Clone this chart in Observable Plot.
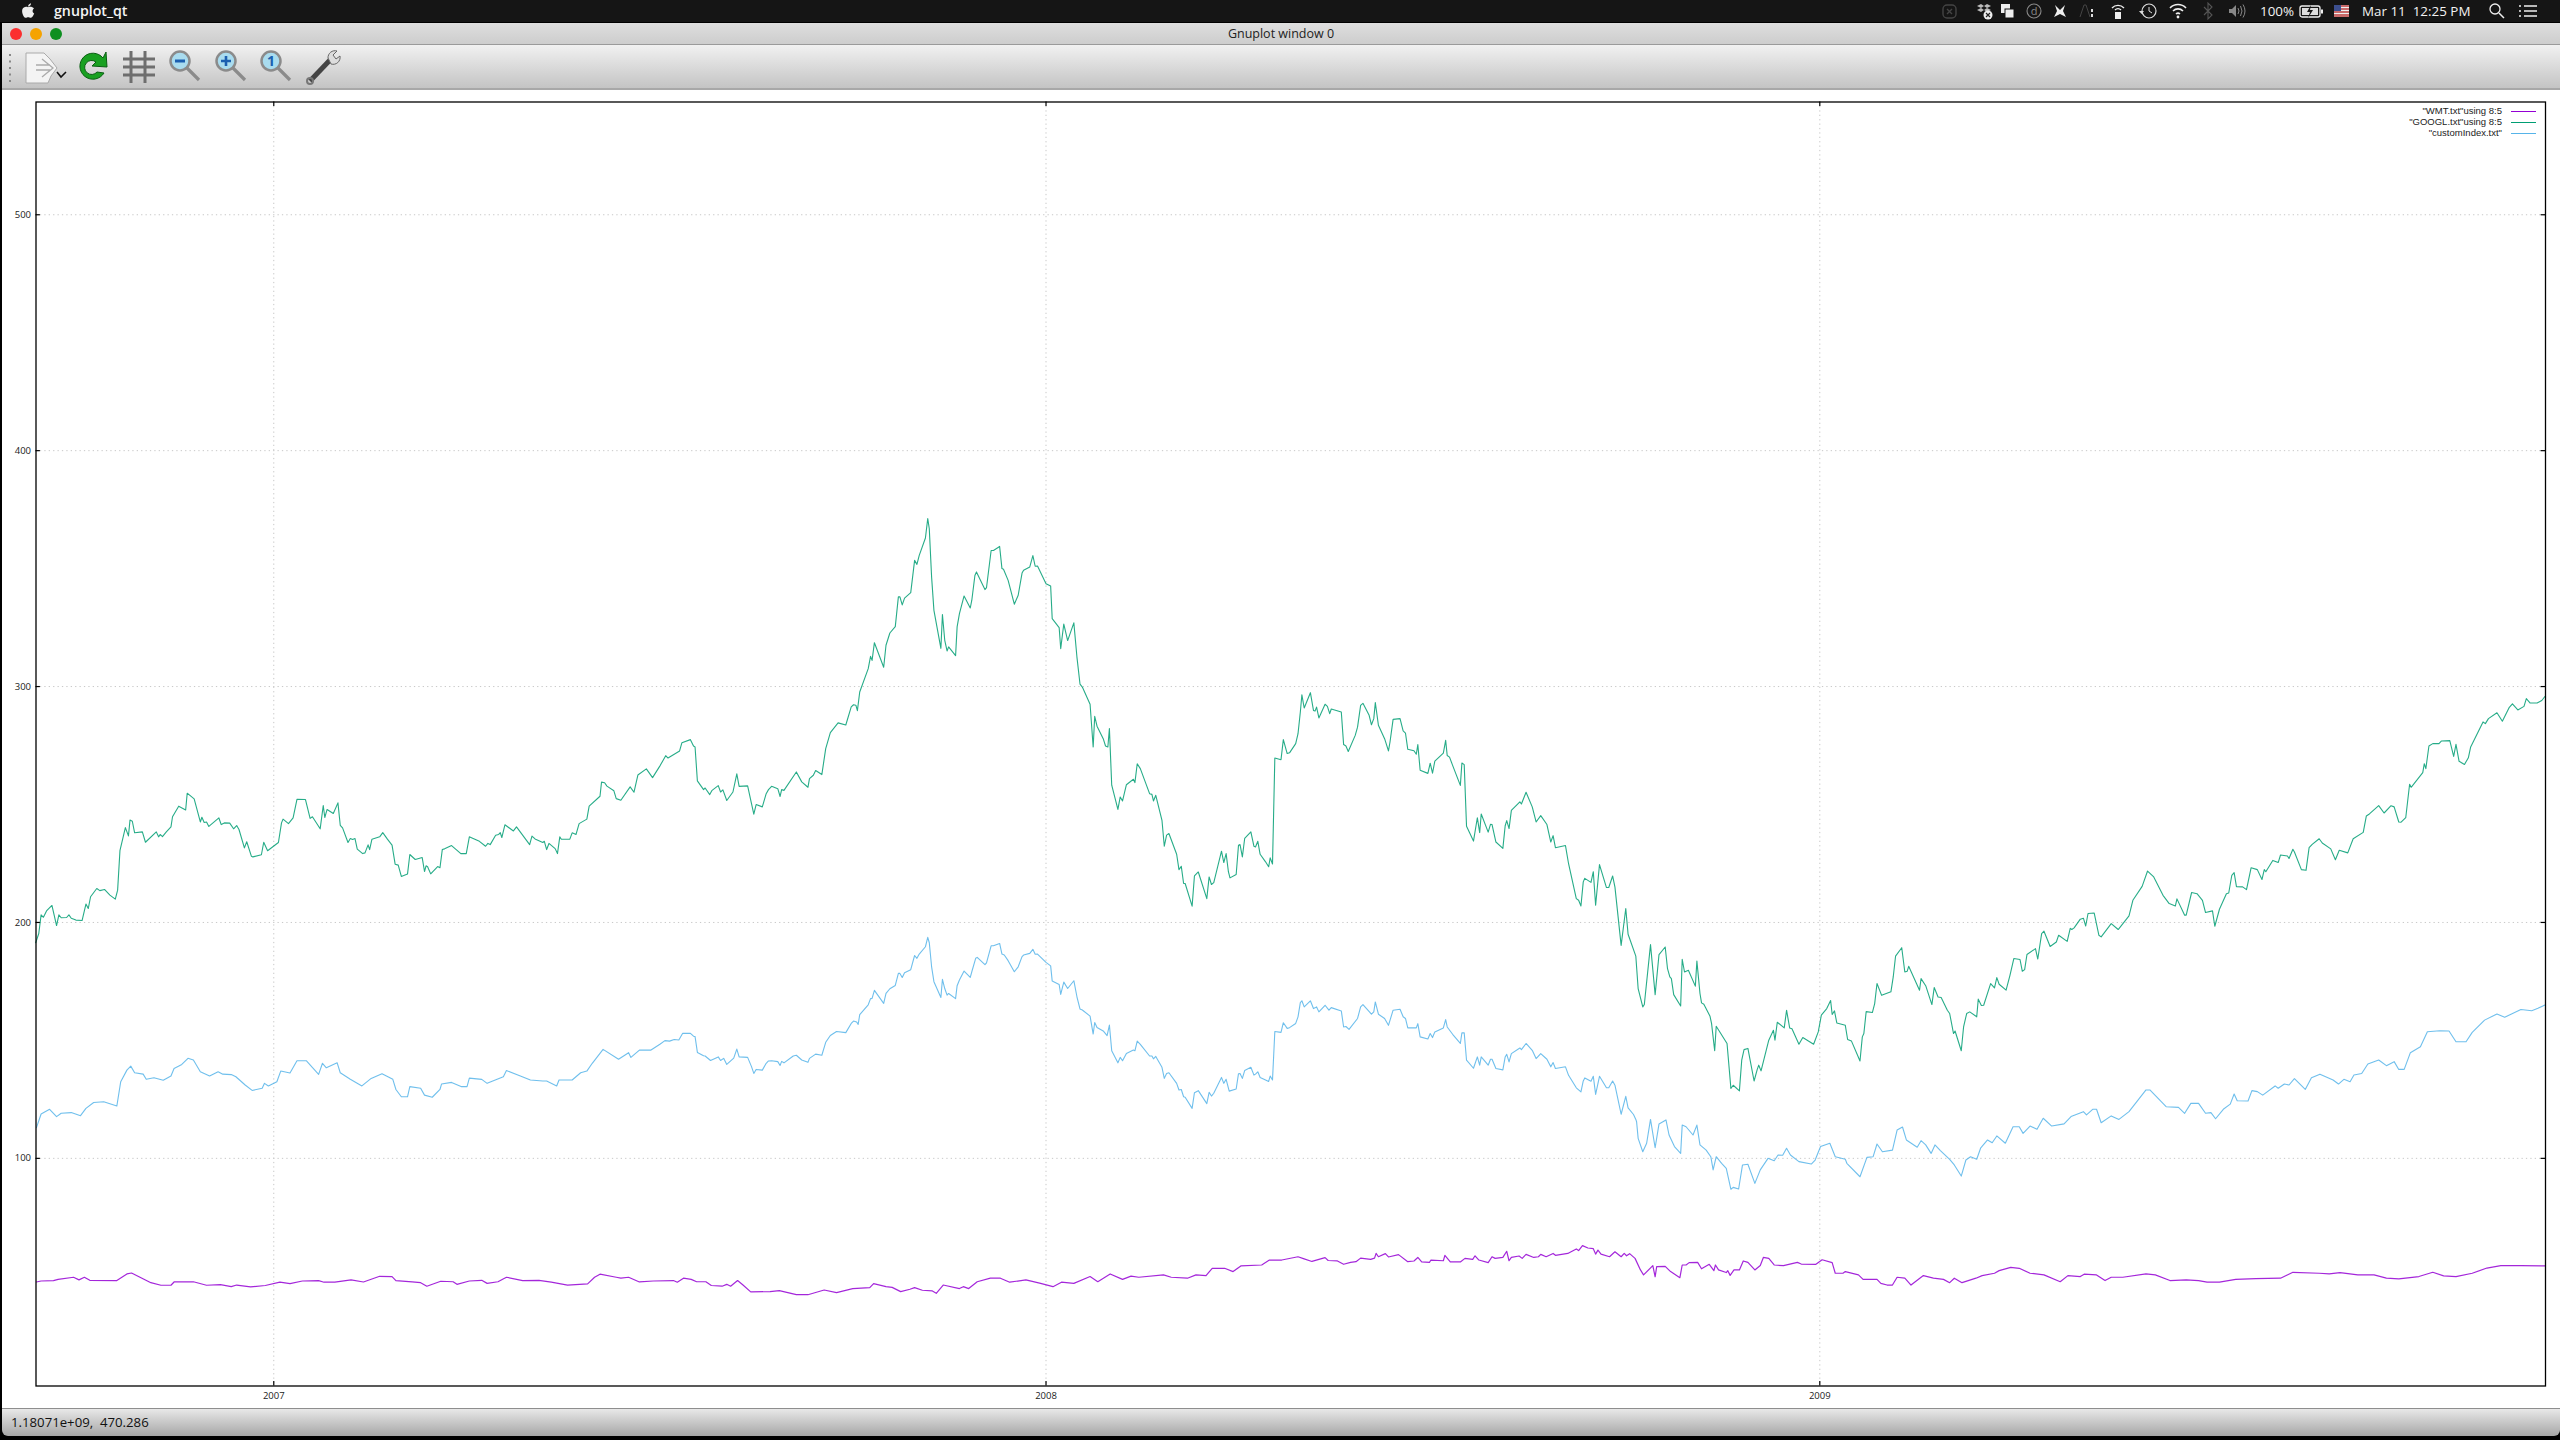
<!DOCTYPE html>
<html><head><meta charset="utf-8">
<script src="https://cdn.jsdelivr.net/npm/d3@7"></script>
<script src="https://cdn.jsdelivr.net/npm/@observablehq/plot@0.6"></script>
<style>
html,body{margin:0;padding:0;background:#000;width:2560px;height:1440px;overflow:hidden;font-family:"Open Sans",sans-serif}
.abs{position:absolute}
#menu{left:0;top:0;width:2560px;height:22px;background:#151515;color:#f2f2f2;font-size:13.4px;line-height:22px}
#titlebar{left:2px;top:23px;width:2558px;height:21px;background:linear-gradient(#dedede,#cdcdcd);border-bottom:1px solid #9a9a9a;text-align:center;font-size:12.5px;line-height:21px;color:#222}
#toolbar{left:2px;top:45px;width:2558px;height:43px;background:linear-gradient(#f1f1f1,#c4c4c4);border-bottom:2px solid #a8a8a8}
#plotarea{left:2px;top:90px;width:2558px;height:1318px;background:#fff}
#status{left:2px;top:1408px;width:2558px;height:28px;background:linear-gradient(#e8e8e8,#a6a6a6);border-top:1px solid #8e8e8e;box-sizing:border-box;font-size:13.2px;line-height:27px;color:#111;padding-left:9px;border-bottom-left-radius:6px;border-bottom-right-radius:6px;white-space:pre}
#legend div{position:absolute;right:43px;white-space:nowrap;font-size:9.5px;line-height:11px;color:#222;font-family:"Liberation Sans",sans-serif}
#legend i{position:absolute;left:2510.5px;width:25.5px;height:1.4px}
svg text{font-family:"Open Sans",sans-serif}
</style></head><body>
<div id="menu" class="abs"></div>
<div id="titlebar" class="abs">Gnuplot window 0</div>
<div id="toolbar" class="abs"></div>
<div id="plotarea" class="abs"></div>
<div id="chart" class="abs" style="left:0;top:90px"></div>
<div id="legend" class="abs" style="left:0;top:0;width:2560px;height:200px"></div>
<div id="status" class="abs">1.18071e+09,  470.286</div>
<script>
const xTicks=[2007,2007.999,2009];
const yTicks=[100,200,300,400,500];
const legendLabels=['"WMT.txt"using 8:5','"GOOGL.txt"using 8:5','"customIndex.txt"'];
const seriesColors=["#9400d3","#009e73","#56b4e9"];

const googlYears=[2006.692,2006.696,2006.699,2006.702,2006.706,2006.713,2006.719,2006.722,2006.725,2006.732,2006.735,2006.738,2006.744,2006.752,2006.757,2006.760,2006.763,2006.771,2006.775,2006.781,2006.788,2006.795,2006.798,2006.801,2006.808,2006.812,2006.814,2006.817,2006.820,2006.830,2006.834,2006.848,2006.851,2006.853,2006.856,2006.861,2006.867,2006.869,2006.877,2006.886,2006.888,2006.897,2006.905,2006.907,2006.910,2006.913,2006.916,2006.929,2006.932,2006.936,2006.943,2006.948,2006.952,2006.955,2006.962,2006.965,2006.971,2006.973,2006.984,2006.987,2006.992,2007.006,2007.010,2007.012,2007.019,2007.025,2007.030,2007.041,2007.047,2007.050,2007.060,2007.064,2007.066,2007.069,2007.077,2007.083,2007.086,2007.089,2007.096,2007.099,2007.102,2007.105,2007.108,2007.115,2007.118,2007.122,2007.124,2007.127,2007.137,2007.141,2007.147,2007.153,2007.157,2007.161,2007.165,2007.173,2007.176,2007.183,2007.192,2007.195,2007.197,2007.199,2007.203,2007.212,2007.215,2007.218,2007.221,2007.230,2007.242,2007.249,2007.253,2007.255,2007.266,2007.274,2007.277,2007.280,2007.287,2007.291,2007.293,2007.295,2007.299,2007.310,2007.314,2007.331,2007.334,2007.338,2007.348,2007.350,2007.353,2007.356,2007.364,2007.367,2007.370,2007.372,2007.383,2007.386,2007.391,2007.395,2007.405,2007.408,2007.422,2007.424,2007.428,2007.431,2007.440,2007.443,2007.449,2007.461,2007.466,2007.471,2007.482,2007.490,2007.500,
2007.507,2007.510,2007.525,2007.528,2007.539,2007.543,2007.545,2007.548,2007.556,2007.558,2007.564,2007.567,2007.575,2007.578,2007.581,2007.586,2007.594,2007.599,2007.602,2007.613,2007.618,2007.621,2007.624,2007.632,2007.637,2007.640,2007.644,2007.652,2007.655,2007.657,2007.660,2007.676,2007.683,2007.691,2007.693,2007.698,2007.701,2007.709,2007.714,2007.720,2007.730,2007.740,2007.747,2007.750,2007.753,2007.755,2007.758,2007.769,2007.772,2007.774,2007.777,2007.789,2007.792,2007.797,2007.804,2007.808,2007.810,2007.813,2007.816,2007.824,2007.829,2007.832,2007.835,2007.843,2007.846,2007.848,2007.851,2007.854,2007.863,2007.865,2007.868,2007.871,2007.873,2007.882,2007.884,2007.887,2007.893,2007.901,2007.903,2007.907,2007.909,2007.920,2007.922,2007.928,2007.931,2007.939,2007.942,2007.944,2007.950,2007.958,2007.963,2007.968,2007.970,2007.978,2007.982,2007.985,2007.988,2007.999,2008.005,2008.007,2008.016,2008.018,2008.022,2008.027,2008.035,2008.039,2008.043,2008.046,2008.056,2008.060,2008.062,2008.065,2008.073,2008.076,2008.079,2008.081,2008.084,2008.092,2008.095,2008.098,2008.103,2008.112,2008.114,2008.117,2008.121,2008.133,2008.136,2008.138,2008.141,2008.149,2008.152,2008.155,2008.158,2008.168,2008.171,2008.174,2008.177,2008.179,2008.188,2008.191,2008.196,2008.207,2008.210,2008.213,2008.216,2008.226,2008.229,2008.232,2008.235,2008.237,2008.245,2008.248,2008.250,2008.253,2008.256,2008.264,2008.268,2008.270,2008.273,2008.276,2008.283,2008.287,2008.289,2008.292,2008.295,2008.303,2008.306,2008.311,2008.314,2008.322,2008.325,2008.328,
2008.330,2008.333,2008.341,2008.345,2008.347,2008.349,2008.352,2008.360,2008.363,2008.366,2008.368,2008.381,2008.384,2008.387,2008.390,2008.399,2008.402,2008.406,2008.409,2008.417,2008.420,2008.423,2008.425,2008.429,2008.437,2008.442,2008.444,2008.448,2008.457,2008.461,2008.464,2008.467,2008.475,2008.478,2008.480,2008.483,2008.493,2008.496,2008.499,2008.502,2008.513,2008.516,2008.518,2008.521,2008.525,2008.535,2008.537,2008.540,2008.543,2008.552,2008.557,2008.560,2008.562,2008.571,2008.574,2008.576,2008.581,2008.590,2008.593,2008.595,2008.598,2008.601,2008.612,2008.614,2008.620,2008.628,2008.633,2008.639,2008.647,2008.652,2008.655,2008.658,2008.671,2008.675,2008.685,2008.688,2008.691,2008.694,2008.696,2008.704,2008.707,2008.710,2008.715,2008.724,2008.727,2008.732,2008.735,2008.743,2008.749,2008.752,2008.762,2008.765,2008.771,2008.773,2008.781,2008.787,2008.792,2008.800,2008.803,2008.806,2008.808,2008.811,2008.820,2008.822,2008.825,2008.830,2008.839,2008.841,2008.845,2008.847,2008.850,2008.858,2008.860,2008.864,2008.866,2008.880,2008.885,2008.888,2008.896,2008.899,2008.902,2008.907,2008.915,2008.919,2008.921,2008.924,2008.934,2008.940,2008.942,2008.945,2008.954,2008.957,2008.961,2008.964,2008.973,2008.978,2008.992,2008.998,2009.002,2009.009,2009.014,2009.016,2009.019,2009.022,2009.033,2009.036,2009.041,2009.052,2009.055,2009.057,2009.060,2009.068,2009.071,2009.074,2009.080,2009.092,2009.095,2009.098,2009.106,2009.110,2009.113,2009.115,2009.129,2009.131,2009.137,2009.145,2009.148,2009.153,2009.157,2009.165,2009.168,2009.173,2009.175,2009.183,2009.186,2009.190,2009.194,2009.203,2009.205,2009.209,2009.212,2009.221,2009.226,2009.229,2009.232,2009.241,2009.246,2009.251,2009.259,2009.262,2009.265,2009.268,2009.279,2009.282,2009.287,2009.290,2009.298,2009.306,2009.309,2009.320,2009.324,2009.326,2009.329,2009.337,2009.341,2009.344,2009.347,2009.355,2009.361,2009.364,2009.377,2009.386,2009.400,2009.405,2009.417,2009.424,2009.432,2009.444,2009.452,2009.460,2009.462,2009.472,2009.474,2009.481,2009.488,2009.495,2009.499,2009.508,2009.511,2009.517,2009.526,2009.529,2009.533,2009.536,2009.539,2009.547,2009.552,2009.558,2009.566,2009.572,2009.575,2009.577,2009.586,2009.593,2009.596,2009.605,2009.607,2009.612,2009.614,2009.623,2009.629,2009.633,2009.637,2009.646,2009.650,2009.661,2009.667,2009.672,2009.683,2009.690,2009.703,2009.707,2009.711,2009.723,2009.730,2009.739,2009.743,2009.749,2009.752,2009.758,2009.763,2009.765,2009.780,2009.782,2009.784,2009.788,2009.793,2009.801,2009.804,2009.815,2009.820,2009.823,2009.827,2009.834,2009.839,2009.842,2009.858,2009.861,2009.865,2009.876,2009.883,2009.892,2009.896,2009.903,2009.911,2009.914,2009.919,2009.928,2009.934,2009.938];
const googlClose=[191.4,195.3,203.2,202.2,204.9,207.2,198.7,203.2,202.0,202.1,203.2,201.8,201.0,200.8,207.8,205.9,210.9,214.4,213.5,214.0,211.6,209.9,213.7,230.4,240.2,236.7,243.4,242.9,238.0,238.4,234.0,238.4,236.3,237.3,236.4,238.4,240.5,244.8,249.3,247.7,254.8,252.4,242.6,244.6,242.4,242.6,240.7,244.3,241.5,242.2,242.1,239.7,241.1,239.4,231.6,234.2,228.1,227.8,228.7,234.0,230.4,233.9,242.2,243.8,241.9,244.3,252.2,252.1,244.1,244.8,239.7,249.6,244.5,247.9,246.2,250.7,241.2,240.1,233.9,235.6,235.2,235.6,231.1,229.2,229.5,232.9,230.9,235.3,236.3,238.1,235.3,232.8,224.7,224.3,219.5,220.5,228.8,226.7,227.5,221.6,224.0,223.6,220.6,223.7,223.2,230.9,231.2,232.6,229.2,229.2,236.3,236.0,234.4,232.3,233.5,233.0,237.0,237.3,238.1,236.0,241.4,238.8,240.5,233.0,236.6,235.4,233.9,234.4,230.9,233.5,231.3,229.2,236.3,235.3,235.3,238.0,237.3,241.9,243.8,249.3,253.5,259.5,259.2,257.8,255.8,252.5,251.8,257.5,255.2,262.5,265.1,261.4,266.6,
270.7,269.7,272.7,276.2,277.5,274.8,274.4,260.0,256.3,257.0,254.2,256.0,258.0,255.3,256.2,251.7,255.3,263.0,257.7,257.9,250.4,245.9,250.0,249.0,254.6,256.3,257.7,256.7,253.4,256.3,256.0,263.8,259.6,257.3,261.0,262.4,264.4,262.7,273.7,280.5,284.6,283.7,291.4,292.3,292.1,289.8,297.7,307.6,312.8,311.1,318.6,308.2,317.5,322.7,325.4,338.0,338.0,334.6,337.5,339.8,353.5,351.8,355.6,363.0,371.2,366.9,346.4,332.3,316.2,330.5,319.6,315.1,316.8,313.1,325.3,330.9,338.4,333.3,336.6,347.1,348.6,341.1,341.9,357.7,357.7,359.4,350.0,349.7,345.0,334.9,338.7,348.1,349.3,350.7,355.5,351.0,351.1,343.6,342.6,328.8,325.0,316.1,326.5,319.5,327.0,312.5,301.0,299.8,292.5,274.4,287.4,283.2,277.9,274.8,274.4,282.2,258.2,247.9,253.2,251.5,258.4,260.7,259.3,267.3,265.2,254.6,254.3,251.5,253.9,243.3,232.3,237.0,237.7,228.9,222.4,223.8,216.5,216.5,206.9,219.7,221.4,210.1,219.3,216.1,216.9,230.2,225.4,229.2,221.4,218.9,220.3,232.7,233.0,227.8,235.6,238.4,232.3,232.0,234.4,228.9,225.7,223.6,227.4,224.8,269.7,269.0,277.5,271.6,271.9,275.8,280.0,289.2,
296.5,290.9,297.4,289.9,289.6,291.3,286.7,292.5,291.6,288.5,290.5,289.2,275.4,274.8,272.5,279.3,282.8,292.0,292.9,287.8,283.8,286.4,293.2,283.6,277.9,272.7,276.5,286.1,286.4,281.2,280.3,273.4,272.8,271.3,275.4,264.5,263.2,267.5,263.3,268.4,271.8,277.2,270.8,270.1,266.6,258.1,267.6,266.9,240.8,234.5,244.4,238.1,246.0,238.3,241.6,241.5,234.1,231.4,241.0,243.2,239.8,247.5,251.1,250.2,255.2,249.0,242.6,245.3,241.5,234.1,236.8,231.7,232.6,224.9,210.1,209.4,207.0,217.2,218.7,217.0,221.5,207.3,224.5,214.8,214.8,219.7,215.0,190.3,205.9,195.0,185.7,172.0,164.2,165.2,190.6,169.4,186.4,189.6,180.4,176.9,176.2,169.4,164.6,184.4,179.0,179.7,173.0,183.6,169.9,165.9,165.3,160.2,157.1,145.6,156.0,148.7,129.6,131.0,128.6,141.6,146.1,146.6,132.8,137.6,139.5,137.1,150.1,154.3,150.1,157.7,155.3,162.8,155.3,154.9,148.4,151.2,148.4,153.6,160.7,163.5,166.9,161.0,162.5,157.4,156.4,150.4,149.7,141.3,151.5,152.9,162.2,161.8,165.6,174.1,169.1,170.6,176.9,185.7,189.3,179.0,179.3,181.4,171.3,176.2,173.2,165.2,172.4,168.4,168.2,162.8,161.4,152.9,154.0,145.6,155.7,161.4,162.1,160.0,167.5,164.8,164.9,174.1,172.3,176.6,173.8,171.3,177.6,184.7,184.3,179.3,180.0,186.4,188.9,184.5,195.3,196.3,189.8,191.7,194.6,192.0,197.5,197.0,197.7,201.4,201.8,198.5,203.8,204.0,194.6,193.9,199.5,197.0,202.8,209.4,215.3,221.8,219.3,211.5,208.0,207.0,210.0,203.1,203.1,212.7,212.2,209.4,204.2,204.9,198.4,205.6,212.2,212.5,220.0,221.1,215.2,215.1,213.9,223.2,222.4,218.2,222.4,221.5,226.3,225.4,228.6,228.2,227.1,231.0,229.9,222.4,222.1,231.7,233.1,235.5,233.7,231.2,226.6,230.6,229.5,235.5,238.2,245.1,246.0,249.5,246.4,249.5,249.0,242.6,242.5,244.4,258.6,257.3,263.5,267.3,265.2,274.8,275.8,275.8,276.9,277.1,270.4,275.5,268.3,267.0,269.8,274.4,285.0,284.3,286.4,288.9,285.3,291.2,292.7,290.1,291.6,294.9,293.0,293.0,294.1,295.8];

const indexYears=[2006.693,2006.699,2006.710,2006.719,2006.725,2006.738,2006.750,2006.757,2006.767,2006.780,2006.797,2006.802,2006.810,2006.815,2006.820,2006.831,2006.835,2006.845,2006.857,2006.867,2006.871,2006.881,2006.889,2006.896,2006.905,2006.917,2006.928,2006.934,2006.945,2006.951,2006.963,2006.972,2006.985,2006.988,2006.993,2007.004,2007.009,2007.021,2007.030,2007.042,2007.058,2007.063,2007.068,2007.082,2007.086,2007.099,2007.114,2007.126,2007.140,2007.154,2007.158,2007.165,2007.173,2007.176,2007.190,2007.195,2007.205,2007.215,2007.217,2007.230,2007.243,2007.250,2007.253,2007.269,2007.276,2007.297,2007.301,2007.319,2007.332,2007.348,2007.353,2007.366,2007.369,2007.386,2007.397,2007.405,2007.412,2007.426,2007.446,2007.459,2007.462,2007.473,2007.488,2007.500,
2007.506,2007.512,2007.518,2007.524,2007.529,2007.539,2007.543,2007.545,2007.548,2007.556,2007.558,2007.565,2007.575,2007.578,2007.582,2007.586,2007.595,2007.599,2007.602,2007.613,2007.618,2007.621,2007.624,2007.632,2007.637,2007.640,2007.644,2007.652,2007.655,2007.657,2007.660,2007.672,2007.676,2007.683,2007.691,2007.693,2007.701,2007.709,2007.714,2007.720,2007.728,2007.740,2007.747,2007.750,2007.754,2007.756,2007.758,2007.769,2007.772,2007.774,2007.777,2007.789,2007.792,2007.797,2007.804,2007.808,2007.810,2007.813,2007.816,2007.824,2007.829,2007.832,2007.835,2007.843,2007.846,2007.848,2007.851,2007.854,2007.863,2007.865,2007.868,2007.871,2007.873,2007.882,2007.884,2007.887,2007.893,2007.901,2007.903,2007.908,2007.910,2007.920,2007.922,2007.928,2007.931,2007.939,2007.942,2007.945,2007.950,2007.958,2007.963,2007.968,2007.970,2007.978,2007.982,2007.985,2007.988,2007.999,2008.005,2008.007,2008.016,2008.018,2008.022,2008.027,2008.035,2008.039,2008.043,2008.046,2008.056,2008.060,2008.062,2008.065,2008.073,2008.078,2008.081,2008.084,2008.092,2008.095,2008.098,2008.103,2008.112,2008.114,2008.117,2008.121,2008.133,2008.136,2008.138,2008.141,2008.149,2008.152,2008.155,2008.158,2008.168,2008.171,2008.174,2008.177,2008.179,2008.188,2008.191,2008.196,2008.207,2008.210,2008.213,2008.216,2008.226,2008.229,2008.232,2008.236,2008.245,2008.248,2008.250,2008.253,2008.256,2008.264,2008.268,2008.270,2008.273,2008.276,2008.283,2008.287,2008.289,2008.292,2008.295,2008.303,2008.306,2008.311,2008.314,2008.322,2008.325,2008.328,
2008.330,2008.333,2008.341,2008.345,2008.347,2008.349,2008.352,2008.360,2008.365,2008.368,2008.381,2008.384,2008.387,2008.391,2008.402,2008.406,2008.409,2008.420,2008.423,2008.425,2008.429,2008.437,2008.442,2008.448,2008.457,2008.461,2008.464,2008.467,2008.478,2008.480,2008.483,2008.493,2008.496,2008.499,2008.502,2008.513,2008.516,2008.518,2008.525,2008.535,2008.537,2008.540,2008.543,2008.552,2008.557,2008.560,2008.562,2008.571,2008.574,2008.576,2008.581,2008.590,2008.593,2008.595,2008.598,2008.601,2008.612,2008.614,2008.620,2008.628,2008.633,2008.639,2008.647,2008.652,2008.655,2008.658,2008.671,2008.675,2008.685,2008.691,2008.694,2008.696,2008.704,2008.707,2008.710,2008.715,2008.724,2008.727,2008.732,2008.735,2008.743,2008.749,2008.752,2008.759,2008.762,2008.763,2008.765,2008.771,2008.776,2008.781,2008.787,2008.792,2008.801,2008.805,2008.812,2008.820,2008.822,2008.827,2008.836,2008.841,2008.845,2008.853,2008.859,2008.862,2008.866,2008.873,2008.879,2008.885,2008.888,2008.895,2008.900,2008.907,2008.916,2008.923,2008.933,2008.941,2008.946,2008.952,2008.957,2008.962,2008.973,2008.989,2008.994,2009.001,2009.013,2009.020,2009.033,2009.035,2009.052,2009.061,2009.069,2009.074,2009.081,2009.094,2009.100,2009.107,2009.112,2009.126,2009.131,2009.137,2009.144,2009.149,2009.156,2009.168,2009.174,2009.183,2009.189,2009.195,2009.203,2009.208,2009.217,2009.223,2009.229,2009.240,2009.250,2009.258,2009.263,2009.272,2009.281,2009.289,2009.300,2009.316,2009.325,2009.341,2009.345,2009.353,2009.358,2009.364,2009.377,2009.387,2009.400,2009.422,2009.427,2009.448,2009.464,2009.472,2009.480,2009.490,2009.499,2009.506,2009.512,2009.522,2009.531,2009.536,2009.540,2009.554,2009.559,2009.566,2009.573,2009.589,2009.593,2009.601,2009.607,2009.614,2009.628,2009.636,2009.647,2009.664,2009.671,2009.678,2009.686,2009.691,2009.701,2009.709,2009.723,2009.733,2009.743,2009.749,2009.756,2009.764,2009.777,2009.786,2009.802,2009.814,2009.823,2009.836,2009.844,2009.860,2009.876,2009.886,2009.907,2009.921,2009.929,2009.938];
const indexValue=[113.0,118.8,120.8,117.7,119.1,119.4,118.1,121.2,123.7,124.0,122.2,132.5,137.4,139.1,136.3,135.7,133.5,134.2,133.1,134.9,138.1,139.8,142.4,141.7,136.7,134.9,136.7,135.7,135.5,134.6,131.1,128.8,129.7,131.8,130.7,132.5,137.0,136.2,141.4,141.4,135.6,140.3,138.4,140.5,136.3,133.5,130.7,133.9,135.9,133.5,129.2,126.1,126.1,130.4,129.7,126.8,125.9,129.2,131.5,132.2,130.4,130.4,134.0,133.5,131.8,134.6,137.2,134.9,133.2,132.8,132.8,130.7,133.2,133.2,136.3,137.0,140.3,146.2,142.0,144.8,142.8,145.9,145.9,148.5,
149.9,149.7,150.4,150.2,153.0,153.0,151.8,151.6,144.9,143.5,143.4,141.5,143.0,141.5,142.4,139.8,142.5,146.3,143.0,142.8,138.9,136.0,137.7,137.4,140.3,141.3,141.4,141.0,139.4,141.1,140.5,143.4,143.7,141.7,140.7,142.4,144.2,143.7,149.2,152.1,153.8,153.3,157.2,158.2,157.8,156.8,160.9,165.1,167.7,167.8,171.2,165.7,169.9,171.9,173.3,178.4,178.4,176.7,178.7,180.0,186.0,184.8,186.6,189.7,193.7,191.4,181.2,174.9,168.2,175.9,172.0,169.2,169.9,167.7,173.2,175.6,179.4,176.7,179.1,184.8,185.2,182.1,182.9,190.1,190.1,191.1,186.6,186.2,183.8,179.1,181.2,185.5,186.2,186.9,188.6,186.5,186.6,183.1,181.6,175.2,173.7,169.5,174.7,172.0,175.3,168.5,163.3,162.9,160.3,152.7,157.6,155.5,154.0,152.0,156.5,145.6,140.5,142.8,141.4,144.5,145.9,145.6,149.7,148.3,143.4,143.4,142.2,143.2,138.6,133.9,136.0,136.3,131.8,129.0,129.2,126.1,125.9,121.2,127.8,128.7,123.2,128.0,126.4,127.6,134.3,131.8,133.5,128.5,129.4,135.9,136.0,133.9,137.2,138.6,135.3,135.7,136.7,134.3,133.2,132.6,134.9,133.2,153.8,153.4,157.5,155.1,155.4,157.2,160.0,166.0,
166.8,164.2,166.8,163.5,163.8,164.2,162.1,164.9,162.8,163.9,162.5,155.7,155.9,154.7,159.3,164.2,165.2,161.1,162.1,166.3,161.1,159.3,156.4,162.8,163.2,160.0,159.3,155.3,155.3,157.1,151.5,150.6,152.9,151.2,153.6,155.3,158.8,155.7,152.6,148.7,153.2,153.2,141.6,138.2,143.0,139.5,143.0,139.5,142.0,142.0,138.1,137.5,143.0,144.1,140.9,144.4,146.8,146.1,148.7,145.8,142.3,144.4,142.0,138.8,140.6,138.1,138.8,135.2,129.9,128.2,132.8,134.1,132.7,134.8,127.1,134.8,129.9,129.9,132.8,131.0,118.7,126.3,121.4,118.6,116.5,115.5,108.5,102.8,106.4,116.5,104.5,114.6,116.3,109.9,105.0,102.1,114.1,113.4,109.9,114.1,105.7,103.5,100.7,95.1,100.7,97.9,95.8,86.9,87.7,87.0,97.2,97.5,89.4,95.1,100.0,99.0,101.4,101.3,104.3,101.4,98.6,97.6,99.3,105.0,106.4,100.7,99.6,97.9,92.2,100.4,100.7,106.1,102.8,103.5,112.0,113.3,107.8,104.7,107.5,105.7,102.1,105.7,103.3,99.6,97.2,92.5,99.3,100.7,99.6,104.3,107.8,106.6,109.5,106.4,113.4,113.4,110.6,113.7,112.3,117.0,113.7,114.6,117.7,119.8,118.4,120.8,120.8,115.1,118.0,116.5,119.8,129.0,129.0,121.9,121.6,119.1,123.3,123.3,119.1,119.4,116.8,120.8,123.0,127.3,124.4,124.3,128.7,128.3,126.8,130.7,129.7,131.5,131.1,133.8,129.2,134.2,135.7,133.2,131.5,133.5,132.5,135.3,136.0,140.0,141.7,139.3,141.0,137.7,137.7,144.8,147.3,153.7,154.1,154.0,149.4,149.4,153.4,158.6,161.2,159.8,163.1,162.6,163.6,165.0];

const wmtYears=[2006.693,2006.699,2006.715,2006.721,2006.741,2006.748,2006.755,2006.762,2006.797,2006.810,2006.816,2006.825,2006.841,2006.854,2006.867,2006.871,2006.896,2006.913,2006.931,2006.945,2006.952,2006.970,2006.989,2007.008,2007.021,2007.037,2007.058,2007.065,2007.079,2007.100,2007.116,2007.137,2007.153,2007.158,2007.179,2007.190,2007.198,2007.216,2007.232,2007.237,2007.253,2007.269,2007.276,2007.290,2007.301,2007.322,2007.343,2007.359,2007.380,2007.406,2007.415,2007.422,2007.443,2007.449,2007.459,2007.473,2007.491,2007.517,2007.522,2007.530,2007.540,2007.547,2007.559,2007.566,2007.580,2007.586,2007.591,2007.600,2007.607,2007.617,2007.642,2007.654,2007.676,2007.691,2007.712,2007.728,2007.749,2007.771,2007.776,2007.792,2007.800,2007.811,2007.823,2007.829,2007.839,2007.852,2007.857,2007.866,2007.887,2007.892,2007.899,2007.910,2007.927,2007.940,2007.952,2007.973,2007.992,2008.008,2008.019,2008.035,2008.056,2008.066,2008.082,2008.098,2008.109,2008.119,2008.151,2008.161,2008.182,2008.193,2008.206,2008.214,2008.230,2008.241,2008.251,2008.278,2008.288,2008.304,2008.325,
2008.332,2008.343,2008.360,2008.364,2008.376,2008.384,2008.393,2008.400,2008.406,2008.419,2008.424,2008.426,2008.429,2008.438,2008.442,2008.455,2008.467,2008.475,2008.480,2008.485,2008.495,2008.497,2008.513,2008.515,2008.522,2008.535,2008.541,2008.551,2008.554,2008.559,2008.571,2008.576,2008.580,2008.590,2008.595,2008.598,2008.601,2008.611,2008.615,2008.620,2008.630,2008.636,2008.639,2008.646,2008.655,2008.658,2008.674,2008.685,2008.688,2008.693,2008.700,2008.707,2008.710,2008.713,2008.717,2008.728,2008.735,2008.743,2008.747,2008.750,2008.754,2008.761,2008.768,2008.772,2008.784,2008.787,2008.789,2008.800,2008.807,2008.819,2008.822,2008.827,2008.831,2008.842,2008.847,2008.857,2008.863,2008.865,2008.869,2008.879,2008.881,2008.884,2008.889,2008.896,2008.901,2008.907,2008.916,2008.923,2008.927,2008.934,2008.941,2008.953,2008.971,2008.976,2008.995,2009.003,2009.016,2009.020,2009.030,2009.033,2009.050,2009.056,2009.074,2009.079,2009.087,2009.094,
2009.100,2009.110,2009.118,2009.134,2009.147,2009.160,2009.168,2009.174,2009.184,2009.202,2009.210,2009.226,2009.232,2009.247,2009.258,2009.272,2009.290,2009.311,2009.321,2009.337,2009.342,2009.358,2009.369,2009.377,2009.392,2009.422,2009.434,2009.453,2009.474,2009.490,2009.501,2009.517,2009.538,2009.564,2009.596,2009.612,2009.646,2009.659,2009.673,2009.696,2009.717,2009.733,2009.749,2009.775,2009.793,2009.807,2009.823,2009.844,2009.863,2009.881,2009.907,2009.938];
const wmtClose=[47.6,48.0,48.2,48.7,49.6,48.5,49.6,48.3,48.2,51.0,51.4,49.9,47.3,46.2,46.2,47.6,47.7,46.2,46.5,45.6,46.3,45.5,46.1,47.5,46.9,48.0,48.2,47.5,47.5,48.5,47.6,50.0,49.9,48.2,47.6,47.3,45.8,47.9,47.7,46.6,48.0,48.3,47.0,47.7,49.6,48.2,48.3,47.5,46.3,46.8,49.6,50.9,49.6,49.2,49.6,47.6,48.0,48.2,47.5,49.2,48.7,47.7,47.7,46.1,45.8,46.6,45.8,48.2,46.3,43.4,43.5,43.9,42.2,42.2,44.2,43.1,44.8,45.2,46.9,45.6,45.3,43.5,44.5,45.2,44.1,43.8,42.8,46.3,44.8,45.6,44.8,47.7,49.2,49.2,47.5,48.5,47.0,45.6,47.5,47.0,49.9,47.7,51.0,48.7,50.1,49.6,50.6,49.6,49.2,50.6,50.3,53.4,53.4,52.0,54.4,54.8,56.9,56.9,58.3,
57.5,56.3,57.9,56.7,56.5,55.1,55.9,56.2,57.7,57.2,57.7,59.7,58.3,59.6,58.2,59.2,56.2,56.5,58.0,56.1,55.9,56.9,56.6,58.9,56.1,56.1,57.6,57.2,58.7,56.9,55.8,58.3,57.6,58.0,60.6,56.6,58.0,58.6,57.6,59.3,58.0,58.3,59.3,58.3,59.7,58.9,59.7,61.6,60.9,63.0,62.0,61.7,59.4,61.1,59.4,58.3,60.4,58.3,59.7,58.7,59.6,57.6,52.7,50.6,54.5,49.8,54.1,54.2,52.0,49.4,54.8,54.8,55.8,55.9,53.2,55.1,52.4,54.8,52.7,51.6,52.4,50.4,52.7,52.7,56.5,55.9,52.7,54.6,58.0,57.6,54.8,54.5,55.9,55.2,55.1,57.0,55.8,51.3,51.3,52.0,50.6,48.7,48.7,47.0,46.3,46.3,
49.6,49.2,46.3,50.3,49.2,48.7,47.3,49.2,47.3,49.2,50.3,51.3,52.4,53.8,53.4,51.3,50.6,47.7,50.3,49.9,50.9,50.6,48.2,49.6,49.6,51.0,50.6,48.2,48.5,48.2,47.5,47.5,48.7,49.0,49.2,51.7,51.3,51.0,51.6,50.6,50.6,49.2,48.9,49.9,51.7,50.2,49.9,51.3,53.5,54.5,54.5,54.4];

const xDomain=[2006.6924,2009.9388], yDomain=[3.5,547.8];
const toRows=(ys,vs)=>ys.map((year,i)=>({year,value:vs[i]}));
const xTickLen=(yDomain[1]-yDomain[0])/1284.5*4.4, yTickLen=(xDomain[1]-xDomain[0])/2509*4.4;
const gridStyle={stroke:"#c8c8c8",strokeOpacity:1,strokeWidth:1,strokeDasharray:"1.3,3.1"};

const chart=Plot.plot({
  width:2560,height:1318,
  marginLeft:35.5,marginRight:15,marginTop:11.5,marginBottom:22.5,
  style:{background:"transparent",overflow:"visible"},
  x:{domain:xDomain,label:null},
  y:{domain:yDomain,label:null},
  marks:[
    Plot.gridX(xTicks,{...gridStyle}),
    Plot.gridY(yTicks,{...gridStyle}),
    Plot.line(toRows(wmtYears,wmtClose),{x:"year",y:"value",stroke:seriesColors[0],strokeWidth:1.2,strokeOpacity:.85}),
    Plot.line(toRows(googlYears,googlClose),{x:"year",y:"value",stroke:seriesColors[1],strokeWidth:1.1,strokeOpacity:.85}),
    Plot.line(toRows(indexYears,indexValue),{x:"year",y:"value",stroke:seriesColors[2],strokeWidth:1.1,strokeOpacity:.85}),
    Plot.ruleY(yTicks,{x1:xDomain[0],x2:xDomain[0]+yTickLen,stroke:"#000",strokeWidth:1.2}),
    Plot.ruleY(yTicks,{x1:xDomain[1]-yTickLen,x2:xDomain[1],stroke:"#000",strokeWidth:1.2}),
    Plot.ruleX(xTicks,{y1:yDomain[0],y2:yDomain[0]+xTickLen,stroke:"#000",strokeWidth:1.2}),
    Plot.ruleX(xTicks,{y1:yDomain[1]-xTickLen,y2:yDomain[1],stroke:"#000",strokeWidth:1.2}),
    Plot.frame({stroke:"#000",strokeWidth:1.3}),
    Plot.axisX({ticks:xTicks,tickFormat:d=>String(Math.round(d)),tickSize:0,tickPadding:6,fontSize:9.5,fill:"#222",label:null}),
    Plot.axisY({ticks:yTicks,tickSize:0,tickPadding:5,fontSize:9.5,fill:"#222",label:null})
  ]
});
document.getElementById("chart").append(chart);

// legend, laid over the top right corner of the frame
const legend=document.getElementById("legend");
legendLabels.forEach((t,i)=>{
  const top=104.8+i*11;
  const d=document.createElement("div");d.textContent=t;d.style.right="58px";d.style.top=top+"px";legend.append(d);
  const s=document.createElement("i");s.style.background=seriesColors[i];s.style.top=(top+5.8)+"px";legend.append(s);
});

// window chrome
const svgAt=(parent,x,y,w,h,inner)=>{parent.insertAdjacentHTML("beforeend",`<svg class="abs" style="left:${x}px;top:${y}px" width="${w}" height="${h}" viewBox="0 0 ${w} ${h}">${inner}</svg>`)};
const body=document.body;
const menu=document.getElementById("menu");
const txt=(x,s,w,c,fs)=>menu.insertAdjacentHTML("beforeend",`<span class="abs" style="left:${x}px;top:0;font-weight:${w||400};color:${c||'#f2f2f2'};white-space:pre;${fs?'font-size:'+fs+'px':''}">${s}</span>`);
svgAt(menu,20,2,16,18,`<path fill="#eee" d="M8 5.2C6.5 4.4 3.2 4.5 2.3 7.6 1.5 10.5 3.5 15.5 5.4 15.8 6.6 16 7 15.2 8.2 15.2 9.4 15.2 9.9 16 11 15.8 12.2 15.5 13.6 13.3 14.2 11.6 12.3 10.8 12 7.8 14 6.6 12.8 4.8 10 4.4 8 5.2Z"/><path fill="#eee" d="M8 4.6C8 3 9.4 1.4 11 1.2 11.2 3 9.6 4.6 8 4.6Z"/>`);
txt(54,"gnuplot_qt",600,"#f4f4f4",14.2);
txt(2260,"100%",400);txt(2362,"Mar 11  12:25 PM",400);
const ic=(x,inner,w=20)=>svgAt(menu,x,1,w,20,inner);
ic(1940,`<rect x="3" y="4" width="13" height="13" rx="4" fill="none" stroke="#444" stroke-width="1.4"/><path d="M7 8l5 5M12 8l-5 5" stroke="#444" stroke-width="1.4"/>`);
ic(1974,`<path d="M3 5l4-2 3 2-3 2zM10 5l3-2 4 2-4 2zM3 9l4-2 3 2-3 2zM10 9l3-2 4 2-4 2z" fill="#bbb"/><circle cx="14" cy="14" r="4.5" fill="#eee"/><path d="M12 12l4 4M16 12l-4 4" stroke="#222" stroke-width="1.2"/>`);
ic(1998,`<rect x="3" y="3" width="9" height="9" fill="#eee"/><rect x="7" y="8" width="9" height="9" fill="#eee" stroke="#151515"/>`);
ic(2024,`<circle cx="10" cy="10" r="7" fill="none" stroke="#888" stroke-width="1.1"/><text x="10" y="14" text-anchor="middle" font-size="11" fill="#888">d</text>`);
ic(2050,`<path d="M5 4l5 5 5-5-2 6 3 6-6-3-6 3 3-6z" fill="#eee"/>`);
ic(2076,`<path d="M4 16l4-12h2l4 12" fill="none" stroke="#444"/><rect x="15" y="8" width="2" height="3" fill="#ddd"/><rect x="15" y="13" width="2" height="3" fill="#ddd"/>`);
ic(2108,`<path d="M4 7a8 8 0 0 1 12 0M7 9a4 4 0 0 1 6 0" fill="none" stroke="#eee" stroke-width="1.3"/><rect x="7" y="11" width="6" height="7" fill="#eee"/>`);
ic(2138,`<circle cx="11" cy="10" r="7" fill="none" stroke="#ddd" stroke-width="1.2"/><path d="M11 6v4l3 2" fill="none" stroke="#ddd"/><path d="M1 10h5l-2.500 3z" fill="#ddd"/>`);
ic(2168,`<path d="M2 7a11 11 0 0 1 16 0M5 10a7 7 0 0 1 10 0M8 13a3 3 0 0 1 4 0" fill="none" stroke="#eee" stroke-width="1.6"/><circle cx="10" cy="16" r="1.400" fill="#eee"/>`);
ic(2198,`<path d="M6 6l8 8-4 4V2l4 4-8 8" fill="none" stroke="#555" stroke-width="1.100"/>`);
ic(2226,`<path d="M3 8h3l4-4v12l-4-4H3z" fill="#888"/><path d="M12 7q2 3 0 6M14.500 5q3 5 0 10M17 3.500q4 6.500 0 13" fill="none" stroke="#888"/>`);
ic(2298,`<rect x="2" y="5" width="20" height="11" rx="2" fill="none" stroke="#eee" stroke-width="1.300"/><rect x="4" y="7" width="16" height="7" fill="#ddd"/><path d="M13 4l-4 7h3l-2 6 5-8h-3z" fill="#151515"/><rect x="23" y="8.500" width="2" height="4" fill="#eee"/>`,26);
ic(2334,`<rect x="0" y="4" width="15" height="12" fill="#c96a6a"/><path d="M0 6.500h15M0 9.500h15M0 12.500h15" stroke="#eee" stroke-width="1.200"/><rect x="0" y="4" width="7" height="6" fill="#3c4f8f"/>`);
ic(2487,`<circle cx="8" cy="8" r="5" fill="none" stroke="#eee" stroke-width="1.300"/><path d="M12 12l5 5" stroke="#eee" stroke-width="1.500"/>`);
ic(2518,`<path d="M6 5h13M6 10h13M6 15h13" stroke="#eee" stroke-width="1.700"/><path d="M1 5h2M1 10h2M1 15h2" stroke="#eee" stroke-width="1.700"/>`);

svgAt(body,8,26,60,16,`<circle cx="8" cy="8" r="6" fill="#fb2f2f"/><circle cx="28" cy="8" r="6" fill="#f5a300"/><circle cx="48" cy="8" r="6" fill="#0e8f20"/>`);
const tb=(x,w,inner)=>svgAt(body,x,47.5,w,40,inner);
tb(7,8,`<path d="M3 6v30" stroke="#888" stroke-width="2" stroke-dasharray="2,4.500"/>`);
tb(22,48,`<path d="M4 5h18l6 6 7 9-6 8-3 7H4z" fill="#f4f4f4" stroke="#aaa"/><path d="M14 17h14M14 22h14M20 11l11 9-11 9" fill="none" stroke="#aaa" stroke-width="1.300"/><path d="M35 24l4 5 5-5" fill="none" stroke="#111" stroke-width="1.600"/>`);
tb(75,36,`<path d="M28 10A13 13 0 1 0 29 25L22 24A7 7 0 1 1 21 14L17 18 32 19 31 4Z" fill="#19a021" stroke="#0a5e12" stroke-width="1"/>`);
tb(122,34,`<path d="M9 3v32M23 3v32M1 11h32M1 19h32M1 27h32" stroke="#6e6e6e" stroke-width="3"/>`);
const lens=(sym)=>`<path d="M19 19l13 13" stroke="#8b8b8b" stroke-width="3.200"/><circle cx="13" cy="13" r="9.500" fill="#a9dcef" stroke="#8b8b8b" stroke-width="2.500"/>${sym}`;
tb(167,36,lens(`<path d="M8 13h10" stroke="#1b5fb0" stroke-width="3"/>`));
tb(213,36,lens(`<path d="M8 13h10M13 8v10" stroke="#1b5fb0" stroke-width="2.600"/>`));
tb(258,36,lens(`<text x="13" y="18" text-anchor="middle" font-size="14" font-weight="700" fill="#1b5fb0">1</text>`));
tb(306,36,`<path d="M4 33L24 12" stroke="#444" stroke-width="5"/><circle cx="4" cy="33" r="3" fill="none" stroke="#777" stroke-width="2"/><path d="M22 10a7 7 0 0 1 9-7l-4 4 3 4 4-3a7 7 0 0 1-9 8z" fill="#ddd" stroke="#666"/>`);
</script>
</body></html>
